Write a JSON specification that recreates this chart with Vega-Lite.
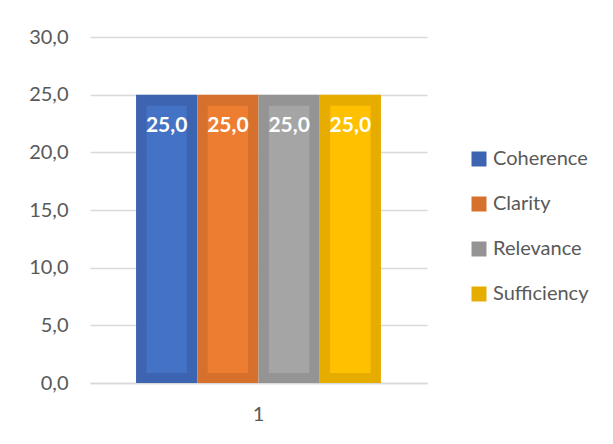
{
  "$schema": "https://vega.github.io/schema/vega-lite/v6.json",
  "autosize": {"type": "none"},
  "width": 337,
  "height": 346,
  "padding": {"left": 90, "top": 37, "right": 186, "bottom": 61},
  "background": "white",
  "data": {
    "values": [
      {"category": "1", "series": "Coherence", "value": 25.0},
      {"category": "1", "series": "Clarity", "value": 25.0},
      {"category": "1", "series": "Relevance", "value": 25.0},
      {"category": "1", "series": "Sufficiency", "value": 25.0}
    ]
  },
  "encoding": {
    "x": {
      "field": "category",
      "type": "nominal",
      "scale": {"paddingInner": 0, "paddingOuter": 0.188},
      "axis": {
        "title": null,
        "labelAngle": 0,
        "domain": true,
        "domainColor": "#D9D9D9",
        "domainWidth": 1.5,
        "ticks": false,
        "labelPadding": 21,
        "labelFont": "Lato",
        "labelFontSize": 20,
        "labelColor": "#595959"
      }
    },
    "y": {
      "field": "value",
      "type": "quantitative",
      "scale": {"domain": [0, 30], "nice": false},
      "axis": {
        "title": null,
        "values": [0, 5, 10, 15, 20, 25, 30],
        "format": ".1f",
        "domain": false,
        "ticks": false,
        "grid": true,
        "gridColor": "#D9D9D9",
        "gridWidth": 1.5,
        "labelPadding": 22,
        "labelFont": "Lato",
        "labelFontSize": 20,
        "labelColor": "#595959"
      }
    }
  },
  "layer": [
    {
      "mark": {"type": "bar"},
      "encoding": {
        "xOffset": {
          "field": "series",
          "type": "nominal",
          "sort": ["Coherence", "Clarity", "Relevance", "Sufficiency"],
          "scale": {"paddingInner": 0, "paddingOuter": 0}
        },
        "color": {
          "field": "series",
          "type": "nominal",
          "sort": ["Coherence", "Clarity", "Relevance", "Sufficiency"],
          "scale": {
            "domain": ["Coherence", "Clarity", "Relevance", "Sufficiency"],
            "range": ["#3D64B0", "#D5702D", "#949494", "#E6AC00"]
          },
          "legend": {
            "title": null,
            "orient": "none",
            "legendX": 379,
            "legendY": 112,
            "symbolType": "square",
            "symbolSize": 225,
            "symbolStrokeWidth": 0,
            "symbolOpacity": 1,
            "labelFont": "Lato",
            "labelFontSize": 20,
            "labelColor": "#595959",
            "labelOffset": 4,
            "rowPadding": 25
          }
        }
      }
    },
    {
      "mark": {"type": "bar", "yOffset": 11, "y2Offset": -10},
      "encoding": {
        "xOffset": {
          "field": "series",
          "type": "nominal",
          "sort": ["Coherence", "Clarity", "Relevance", "Sufficiency"],
          "scale": {"paddingInner": 0.34, "paddingOuter": 0.17}
        },
        "y2": {"datum": 0},
        "fill": {
          "field": "series",
          "type": "nominal",
          "scale": {
            "domain": ["Coherence", "Clarity", "Relevance", "Sufficiency"],
            "range": ["#4472C4", "#ED7D31", "#A5A5A5", "#FFC000"]
          },
          "legend": null
        }
      }
    },
    {
      "mark": {
        "type": "text",
        "baseline": "alphabetic",
        "dy": 37,
        "font": "Lato",
        "fontSize": 21,
        "fontWeight": "bold",
        "color": "white"
      },
      "encoding": {
        "xOffset": {
          "field": "series",
          "type": "nominal",
          "sort": ["Coherence", "Clarity", "Relevance", "Sufficiency"],
          "bandPosition": 0.5,
          "scale": {"type": "band", "paddingInner": 0, "paddingOuter": 0}
        },
        "text": {"field": "value", "type": "quantitative", "format": ".1f"}
      }
    }
  ],
  "resolve": {"scale": {"xOffset": "independent"}},
  "config": {
    "locale": {
      "number": {"decimal": ",", "thousands": ".", "grouping": [3], "currency": ["", ""]}
    },
    "view": {"stroke": null}
  }
}
